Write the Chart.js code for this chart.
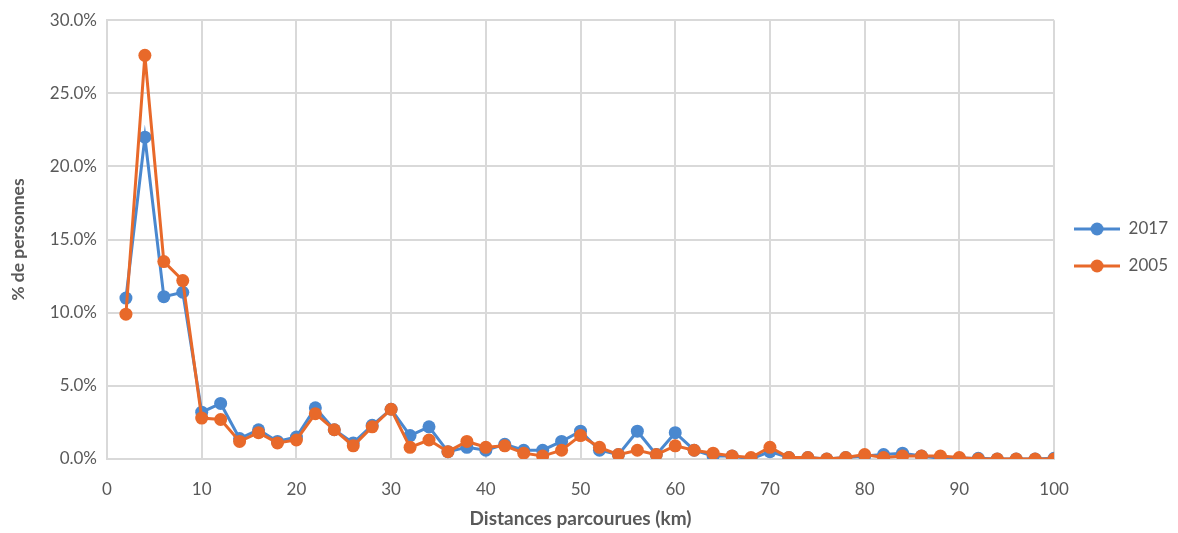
<!DOCTYPE html>
<html lang="fr">
<head>
<meta charset="utf-8">
<title>Distances parcourues</title>
<script src="https://cdn.jsdelivr.net/npm/chart.js@4/dist/chart.umd.min.js"></script>
<style>
  html, body { margin: 0; padding: 0; background: #fff; }
  #wrap { width: 1178px; height: 533px; }
</style>
</head>
<body>
<div id="wrap"><canvas id="distance-chart"></canvas></div>
<script>
// Distances (km), un point tous les 2 km
const distances = [
  2, 4, 6, 8, 10, 12, 14, 16, 18, 20,
  22, 24, 26, 28, 30, 32, 34, 36, 38, 40,
  42, 44, 46, 48, 50, 52, 54, 56, 58, 60,
  62, 64, 66, 68, 70, 72, 74, 76, 78, 80,
  82, 84, 86, 88, 90, 92, 94, 96, 98, 100
];

// % de personnes, enquête 2017
const pct2017 = [
  11.0, 22.0, 11.1, 11.4, 3.2, 3.8, 1.4, 2.0, 1.2, 1.5,
  3.5, 2.0, 1.1, 2.3, 3.4, 1.6, 2.2, 0.5, 0.8, 0.6,
  1.0, 0.6, 0.6, 1.2, 1.9, 0.6, 0.3, 1.9, 0.3, 1.8,
  0.6, 0.2, 0.2, 0.0, 0.5, 0.1, 0.1, 0.0, 0.1, 0.2,
  0.3, 0.4, 0.2, 0.05, 0.05, 0.05, 0.0, 0.0, 0.0, 0.05
];

// % de personnes, enquête 2005
const pct2005 = [
  9.9, 27.6, 13.5, 12.2, 2.8, 2.7, 1.2, 1.8, 1.1, 1.3,
  3.1, 2.0, 0.9, 2.2, 3.4, 0.8, 1.3, 0.5, 1.2, 0.8,
  0.9, 0.4, 0.2, 0.6, 1.6, 0.8, 0.3, 0.6, 0.3, 0.9,
  0.6, 0.4, 0.2, 0.1, 0.8, 0.1, 0.1, 0.0, 0.1, 0.3,
  0.1, 0.2, 0.2, 0.2, 0.1, 0.0, 0.0, 0.0, 0.0, 0.0
];

const seriesNames = ["2017", "2005"];
const seriesColors = ["#4a88cf", "#e8692a"];

const FONT = "Lato, 'Open Sans', sans-serif";
const GREY = "#595959";
const GRID = "#d9d9d9";

// Petit symbole de légende : trait + rond, comme les séries
function legendSymbol(color) {
  const c = document.createElement("canvas");
  c.width = 46;
  c.height = 14;
  const g = c.getContext("2d");
  g.strokeStyle = color;
  g.lineWidth = 3;
  g.beginPath();
  g.moveTo(0, 7);
  g.lineTo(46, 7);
  g.stroke();
  g.fillStyle = color;
  g.beginPath();
  g.arc(23, 7, 6.5, 0, Math.PI * 2);
  g.fill();
  return c;
}

function toPoints(values) {
  return distances.map((d, i) => ({ x: d, y: values[i] }));
}

// 2005 dessinée par-dessus 2017 (order plus petit = au-dessus)
const datasets = [pct2017, pct2005].map((values, i) => ({
  label: seriesNames[i],
  data: toPoints(values),
  order: i === 0 ? 1 : 0,
  borderColor: seriesColors[i],
  backgroundColor: seriesColors[i],
  borderWidth: 3,
  pointRadius: 6.5,
  pointHoverRadius: 7,
  pointBorderWidth: 0,
  tension: 0
}));

// Remonte un peu la légende, centrée sur la zone de tracé
const legendNudge = {
  id: "legendNudge",
  afterLayout(chart) {
    const lg = chart.legend;
    if (!lg) return;
    lg.top -= 28;
    lg.bottom -= 28;
  }
};

const ctx = document.getElementById("distance-chart").getContext("2d");

new Chart(ctx, {
  type: "line",
  data: { datasets: datasets },
  plugins: [legendNudge],
  options: {
    responsive: true,
    maintainAspectRatio: false,
    animation: false,
    layout: { padding: { top: 18, right: 0, left: 0, bottom: 0 } },
    plugins: {
      tooltip: { enabled: false },
      legend: {
        position: "right",
        labels: {
          usePointStyle: true,
          pointStyleWidth: 46,
          boxHeight: 14,
          padding: 20,
          color: GREY,
          font: { family: FONT, size: 17 },
          generateLabels(chart) {
            return chart.data.datasets.map((ds, i) => ({
              text: ds.label,
              fillStyle: ds.borderColor,
              strokeStyle: ds.borderColor,
              fontColor: GREY,
              lineWidth: 0,
              pointStyle: legendSymbol(ds.borderColor),
              datasetIndex: i
            }));
          }
        }
      }
    },
    scales: {
      x: {
        type: "linear",
        min: 0,
        max: 100,
        afterFit(scale) { scale.height = 74; },
        ticks: {
          stepSize: 10,
          padding: 20,
          color: GREY,
          font: { family: FONT, size: 17 }
        },
        grid: { color: GRID, lineWidth: 2, drawTicks: false },
        border: { color: GRID, width: 2 },
        title: {
          display: true,
          text: "Distances parcourues (km)",
          color: GREY,
          font: { family: FONT, size: 19, weight: "bold" },
          padding: { top: 0, bottom: 3 }
        }
      },
      y: {
        min: 0,
        max: 30,
        afterFit(scale) { scale.width = 107; },
        ticks: {
          stepSize: 5,
          padding: 10,
          color: GREY,
          font: { family: FONT, size: 17 },
          callback: (v) => v.toFixed(1) + "%"
        },
        grid: { color: GRID, lineWidth: 2, drawTicks: false },
        border: { color: GRID, width: 2 },
        title: {
          display: true,
          text: "% de personnes",
          color: GREY,
          font: { family: FONT, size: 17.5, weight: "bold" },
          padding: { top: 8, bottom: 0 }
        }
      }
    }
  }
});
</script>
</body>
</html>
